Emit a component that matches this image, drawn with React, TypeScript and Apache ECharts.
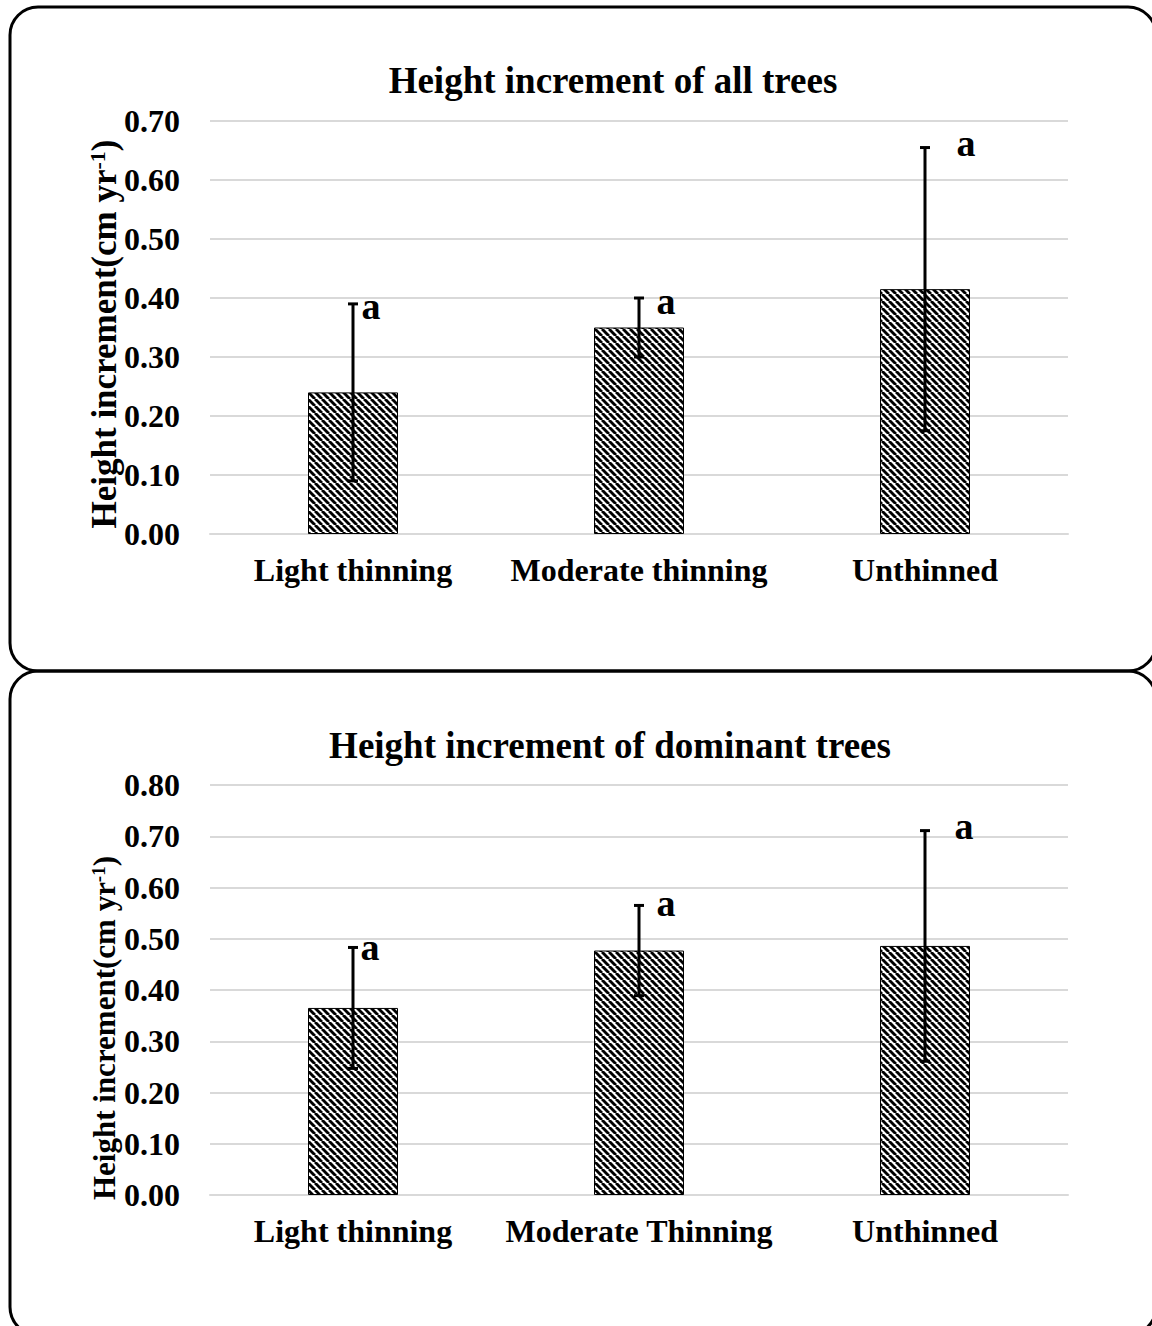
import React, { useEffect, useRef } from "react";
import * as echarts from "echarts";

const categoriesAll = ["Light thinning", "Moderate thinning", "Unthinned"];
const categoriesDom = ["Light thinning", "Moderate Thinning", "Unthinned"];
const meansAll = [0.24, 0.35, 0.415];
const errAll = [0.15, 0.05, 0.24];
const lettersAll = ["a", "a", "a"];
const meansDom = [0.365, 0.477, 0.486];
const errDom = [0.118, 0.088, 0.225];
const lettersDom = ["a", "a", "a"];
const maxAll = 0.7;
const maxDom = 0.8;
const tickStep = 0.1;
const titleAll = "Height increment of all trees";
const titleDom = "Height increment of dominant trees";

const FONT = "'Liberation Serif', 'Times New Roman', serif";
const letterDxAll = [18, 27, 41];
const letterDyAll = [2, 3, -5];
const letterDxDom = [17, 27, 39];
const letterDyDom = [0, -2, -5];

function makePattern() {
  const s = 7;
  const c = document.createElement("canvas");
  c.width = s;
  c.height = s;
  const ctx = c.getContext("2d")!;
  ctx.fillStyle = "#fff";
  ctx.fillRect(0, 0, s, s);
  ctx.strokeStyle = "#000";
  ctx.lineWidth = 2.9;
  for (let k = -1; k <= 1; k++) {
    ctx.beginPath();
    ctx.moveTo(k * s, 0);
    ctx.lineTo(k * s + s, s);
    ctx.stroke();
  }
  return { image: c, repeat: "repeat", imageWidth: s, imageHeight: s } as any;
}

export default function App() {
  const ref = useRef<HTMLDivElement>(null);
  useEffect(() => {
    if (!ref.current) return;
    const chart = echarts.init(ref.current, null, { renderer: "svg" });
    const pattern = makePattern();

    const errSeries = (
      gridIdx: number,
      means: number[],
      errs: number[],
      letters: string[],
      dx: number[],
      dy: number[]
    ) => ({
      type: "custom",
      xAxisIndex: gridIdx,
      yAxisIndex: gridIdx,
      z: 10,
      data: means.map((m, i) => [i, m - errs[i], m + errs[i]]),
      renderItem: (params: any, api: any) => {
        const i = api.value(0);
        const lo = api.coord([i, api.value(1)]);
        const hi = api.coord([i, api.value(2)]);
        const x = lo[0];
        const cap = 5;
        const st = { stroke: "#000", lineWidth: 3 };
        return {
          type: "group",
          children: [
            { type: "line", shape: { x1: x, y1: lo[1], x2: x, y2: hi[1] }, style: st },
            { type: "line", shape: { x1: x - cap, y1: hi[1], x2: x + cap, y2: hi[1] }, style: st },
            { type: "line", shape: { x1: x - cap, y1: lo[1], x2: x + cap, y2: lo[1] }, style: st },
            {
              type: "text",
              x: x + dx[params.dataIndex],
              y: hi[1] + dy[params.dataIndex],
              style: {
                text: letters[params.dataIndex],
                font: `bold 38px ${FONT}`,
                fill: "#000",
                align: "center",
                verticalAlign: "middle",
              },
            },
          ],
        };
      },
    });

    const xAxis = (idx: number, cats: string[]) => ({
      type: "category",
      gridIndex: idx,
      data: cats,
      axisLine: { show: true, lineStyle: { color: "#d9d9d9", width: 2 } },
      axisTick: { show: false },
      axisLabel: {
        interval: 0,
        color: "#000",
        fontFamily: FONT,
        fontWeight: "bold",
        fontSize: 32,
        margin: 20,
      },
    });
    const yAxis = (idx: number, max: number) => ({
      type: "value",
      gridIndex: idx,
      min: 0,
      max,
      interval: tickStep,
      axisLine: { show: false },
      axisTick: { show: false },
      splitLine: { lineStyle: { color: "#d9d9d9", width: 2 } },
      axisLabel: {
        color: "#000",
        fontFamily: FONT,
        fontWeight: "bold",
        fontSize: 32,
        margin: 30,
        formatter: (v: number) => v.toFixed(2),
      },
    });

    const yName = (cx: number, cy: number, size: number) => ({
      type: "text",
      x: cx,
      y: cy,
      rotation: Math.PI / 2,
      style: {
        text: "{a|Height increment(cm yr}{s|-1}{a|)}",
        align: "center",
        verticalAlign: "middle",
        fill: "#000",
        rich: {
          a: { fontFamily: FONT, fontWeight: "bold", fontSize: size, fill: "#000" },
          s: {
            fontFamily: FONT,
            fontWeight: "bold",
            fontSize: Math.round(size * 0.62),
            fill: "#000",
            verticalAlign: "top",
          },
        },
      },
    });

    chart.setOption({
      animation: false,
      backgroundColor: "#fff",
      title: [
        {
          text: titleAll,
          left: 608,
          top: 57,
          textAlign: "center",
          textStyle: { fontFamily: FONT, fontWeight: "bold", fontSize: 37, color: "#000" },
        },
        {
          text: titleDom,
          left: 605,
          top: 722,
          textAlign: "center",
          textStyle: { fontFamily: FONT, fontWeight: "bold", fontSize: 37, color: "#000" },
        },
      ],
      grid: [
        { left: 210, right: 84, top: 121, height: 413 },
        { left: 210, right: 84, top: 785, height: 410 },
      ],
      xAxis: [xAxis(0, categoriesAll), xAxis(1, categoriesDom)],
      yAxis: [yAxis(0, maxAll), yAxis(1, maxDom)],
      graphic: [
        {
          type: "rect",
          shape: { x: 10, y: 7, width: 1146, height: 664, r: 28 },
          style: { fill: "none", stroke: "#000", lineWidth: 3 },
          z: 100,
        },
        {
          type: "rect",
          shape: { x: 10, y: 671, width: 1146, height: 664, r: 28 },
          style: { fill: "none", stroke: "#000", lineWidth: 3 },
          z: 100,
        },
        yName(104, 334, 35),
        yName(104, 1028, 31),
      ],
      series: [
        {
          type: "bar",
          xAxisIndex: 0,
          yAxisIndex: 0,
          data: meansAll,
          barWidth: 90,
          itemStyle: { color: pattern, borderColor: "#000", borderWidth: 1 },
        },
        errSeries(0, meansAll, errAll, lettersAll, letterDxAll, letterDyAll),
        {
          type: "bar",
          xAxisIndex: 1,
          yAxisIndex: 1,
          data: meansDom,
          barWidth: 90,
          itemStyle: { color: pattern, borderColor: "#000", borderWidth: 1 },
        },
        errSeries(1, meansDom, errDom, lettersDom, letterDxDom, letterDyDom),
      ],
    });
    return () => chart.dispose();
  }, []);
  return (
    <div
      ref={ref}
      style={{ position: "absolute", left: 0, top: 0, width: 1152, height: 1326 }}
    />
  );
}
